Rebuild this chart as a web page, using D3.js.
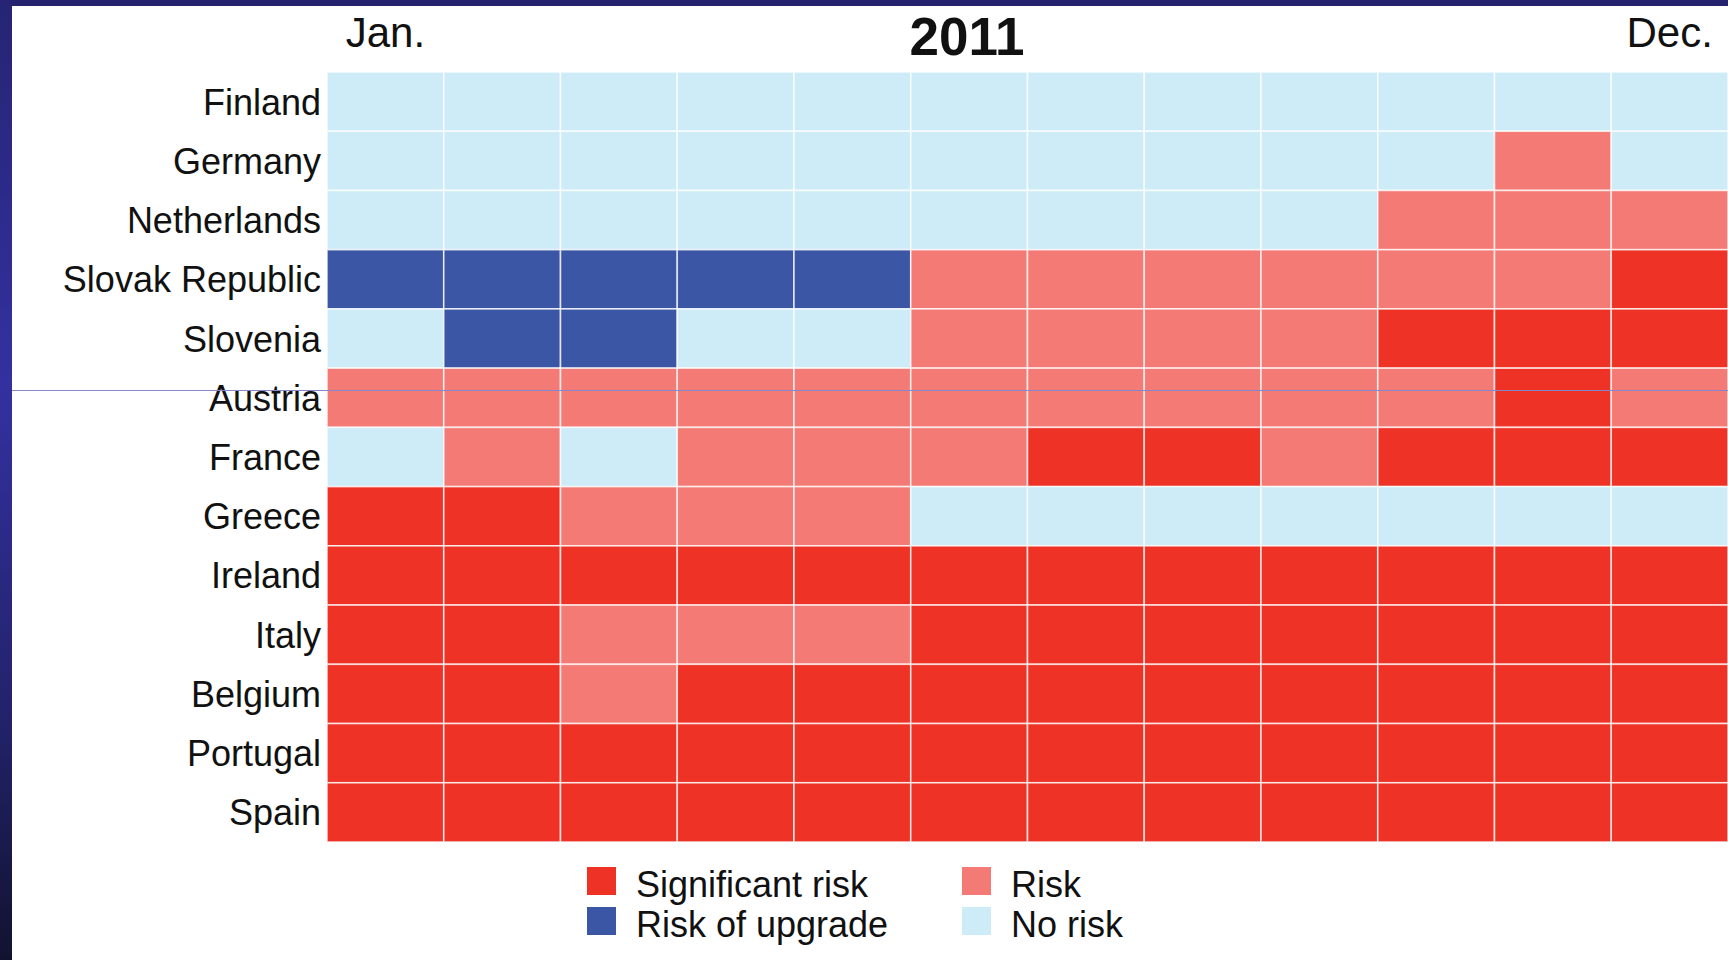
<!DOCTYPE html>
<html>
<head>
<meta charset="utf-8">
<script src="https://cdn.jsdelivr.net/npm/d3@7"></script>
<style>
  html, body { margin: 0; padding: 0; background: #fff; }
  svg { display: block; }
  text { font-family: "Liberation Sans", Arial, Helvetica, sans-serif; fill: #111; }
</style>
</head>
<body>
<svg id="chart" width="1728" height="960"></svg>
<script>
// ---- data ----
const title = "2011";
const months = ["Jan.", "Feb.", "Mar.", "Apr.", "May", "Jun.", "Jul.", "Aug.", "Sep.", "Oct.", "Nov.", "Dec."];
const monthLabelsShown = ["Jan.", "Dec."];
const countries = ["Finland", "Germany", "Netherlands", "Slovak Republic", "Slovenia", "Austria",
                   "France", "Greece", "Ireland", "Italy", "Belgium", "Portugal", "Spain"];
// S = Significant risk, R = Risk, U = Risk of upgrade, N = No risk
const finland     = ["N","N","N","N","N","N","N","N","N","N","N","N"];
const germany     = ["N","N","N","N","N","N","N","N","N","N","R","N"];
const netherlands = ["N","N","N","N","N","N","N","N","N","R","R","R"];
const slovakia    = ["U","U","U","U","U","R","R","R","R","R","R","S"];
const slovenia    = ["N","U","U","N","N","R","R","R","R","S","S","S"];
const austria     = ["R","R","R","R","R","R","R","R","R","R","S","R"];
const france      = ["N","R","N","R","R","R","S","S","R","S","S","S"];
const greece      = ["S","S","R","R","R","N","N","N","N","N","N","N"];
const ireland     = ["S","S","S","S","S","S","S","S","S","S","S","S"];
const italy       = ["S","S","R","R","R","S","S","S","S","S","S","S"];
const belgium     = ["S","S","R","S","S","S","S","S","S","S","S","S"];
const portugal    = ["S","S","S","S","S","S","S","S","S","S","S","S"];
const spain       = ["S","S","S","S","S","S","S","S","S","S","S","S"];
const seriesValues = [finland, germany, netherlands, slovakia, slovenia, austria,
                      france, greece, ireland, italy, belgium, portugal, spain];
const categoryCodes = ["S", "R", "U", "N"];
const categoryNames = ["Significant risk", "Risk", "Risk of upgrade", "No risk"];
const categoryColors = ["#ee3226", "#f47b75", "#3c56a6", "#ceebf8"];

// ---- build ----
const svg = d3.select("#chart");
const W = 1728, H = 960;

const defs = svg.append("defs");
const g1 = defs.append("linearGradient").attr("id", "leftBar").attr("x1", 0).attr("y1", 0).attr("x2", 0).attr("y2", 1);
g1.append("stop").attr("offset", "0%").attr("stop-color", "#262473");
g1.append("stop").attr("offset", "40%").attr("stop-color", "#3331a0");
g1.append("stop").attr("offset", "75%").attr("stop-color", "#22226a");
g1.append("stop").attr("offset", "100%").attr("stop-color", "#121230");

svg.append("rect").attr("x", 0).attr("y", 0).attr("width", W).attr("height", H).attr("fill", "#fff");
svg.append("rect").attr("x", 0).attr("y", 0).attr("width", W).attr("height", 6).attr("fill", "#25236d");
svg.append("rect").attr("x", 0).attr("y", 0).attr("width", 12).attr("height", H).attr("fill", "url(#leftBar)");

const x = d3.scaleBand().domain(months).range([327, 1728]).padding(0);
const y = d3.scaleBand().domain(countries).range([72, 842]).padding(0);
const color = d3.scaleOrdinal().domain(categoryCodes).range(categoryColors);

const cells = [];
countries.forEach((c, i) => months.forEach((m, j) => cells.push({ c, m, v: seriesValues[i][j] })));

svg.append("g").selectAll("rect").data(cells).join("rect")
  .attr("x", d => x(d.m))
  .attr("y", d => y(d.c))
  .attr("width", x.bandwidth())
  .attr("height", y.bandwidth())
  .attr("fill", d => color(d.v))
  .attr("stroke", "rgba(255,255,255,0.75)")
  .attr("stroke-width", 1.6);

// row labels
const yAxis = d3.axisLeft(y).tickSize(0).tickPadding(6);
const ya = svg.append("g").attr("transform", "translate(327,0)").call(yAxis);
ya.select(".domain").remove();
ya.selectAll("text").style("font-size", "36px").attr("dy", "0.36em")
  .style("font-family", '"Liberation Sans", Arial, sans-serif').attr("fill", "#111");

// month labels
const xAxis = d3.axisTop(x).tickSize(0).tickPadding(0)
  .tickFormat(m => monthLabelsShown.includes(m) ? m : "");
const xa = svg.append("g").attr("transform", "translate(0,47)").call(xAxis);
xa.select(".domain").remove();
xa.selectAll("text").style("font-size", "42px").attr("dy", "0")
  .style("font-family", '"Liberation Sans", Arial, sans-serif').attr("fill", "#111");

// title
svg.append("text").attr("x", 967).attr("y", 55).attr("text-anchor", "middle")
  .style("font-size", "53px").style("font-weight", "bold").text(title);

// thin horizontal line
svg.append("line").attr("x1", 12).attr("x2", W).attr("y1", 390.5).attr("y2", 390.5)
  .attr("stroke", "#8686cc").attr("stroke-width", 1.2);

// legend (order: Significant risk, Risk / Risk of upgrade, No risk)
const legendItems = [
  { code: "S", col: 0, row: 0 }, { code: "R", col: 1, row: 0 },
  { code: "U", col: 0, row: 1 }, { code: "N", col: 1, row: 1 }
];
const colX = [587, 962], rowY = [867, 907];
const lg = svg.append("g").selectAll("g").data(legendItems).join("g")
  .attr("transform", d => `translate(${colX[d.col]},${rowY[d.row]})`);
lg.append("rect").attr("width", 29).attr("height", 28)
  .attr("fill", d => color(d.code));
lg.append("text").attr("x", 49).attr("y", 30).style("font-size", "36px")
  .text(d => categoryNames[categoryCodes.indexOf(d.code)]);
</script>
</body>
</html>
